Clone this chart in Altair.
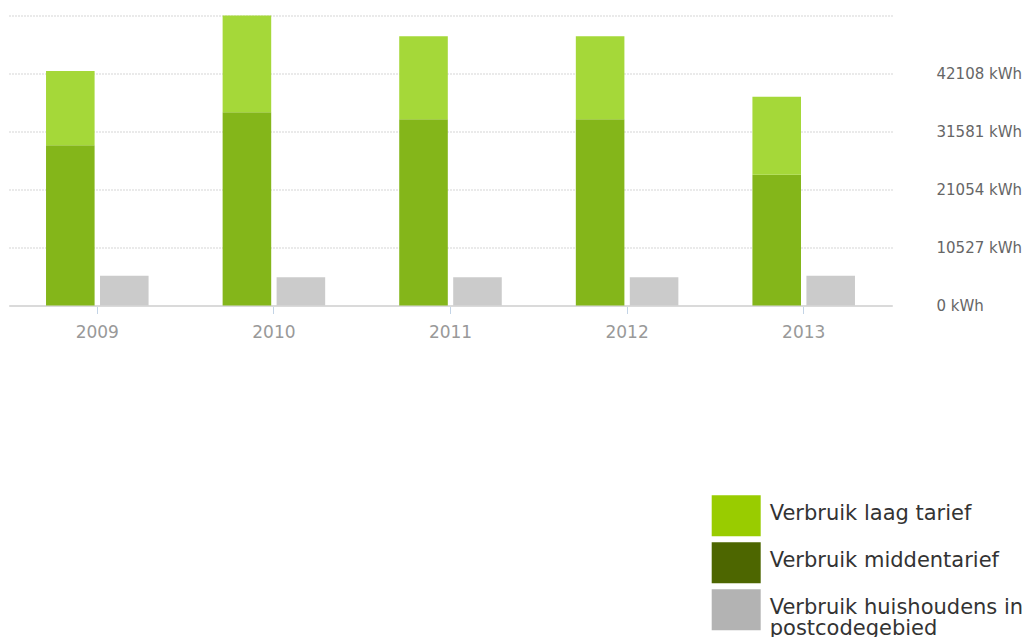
import altair as alt
import pandas as pd

years = ["2009", "2010", "2011", "2012", "2013"]
midden = [29080, 35070, 33800, 33800, 23740]          # Verbruik middentarief (bottom, dark)
laag = [13480, 17565, 15060, 15060, 14160]            # Verbruik laag tarief (top, light)
huishoudens = [5410, 5120, 5120, 5120, 5410]          # Verbruik huishoudens in postcodegebied
series_names = ["Verbruik laag tarief", "Verbruik middentarief",
                "Verbruik huishoudens in postcodegebied"]
bar_colors = ["#a5d839", "#84b61a", "#cbcbcb"]
legend_colors = ["#99cc00", "#4d6600", "#b3b3b3"]
y_ticks = [0, 10527, 21054, 31581, 42108, 52635]

rows = []
for i, y in enumerate(years):
    rows.append({"year": y, "group": "a", "series": series_names[1], "value": midden[i], "ord": 0})
    rows.append({"year": y, "group": "a", "series": series_names[0], "value": laag[i], "ord": 1})
    rows.append({"year": y, "group": "b", "series": series_names[2], "value": huishoudens[i], "ord": 0})
df = pd.DataFrame(rows)
legend_df = pd.DataFrame({"entry": series_names})

font = "DejaVu Sans"

bars = alt.Chart(df).mark_bar().encode(
    x=alt.X("year:N", title=None,
            scale=alt.Scale(paddingInner=0, paddingOuter=0),
            axis=alt.Axis(labelAngle=0, labelFontSize=17, labelColor="#999999", labelFont=font,
                          tickSize=8, tickColor="#c3d4e6", tickWidth=1, labelPadding=11,
                          domainColor="#dadada", domainWidth=2, grid=False)),
    xOffset=alt.XOffset("group:N", scale=alt.Scale(paddingInner=0.1, paddingOuter=0.686)),
    y=alt.Y("value:Q", stack="zero", title=None,
            scale=alt.Scale(domain=[0, 52635], nice=False, zero=True),
            axis=alt.Axis(orient="right", values=y_ticks,
                          labelExpr="datum.value > 50000 ? '' : datum.value + ' kWh'",
                          labelFontSize=15, labelColor="#666666", labelFont=font,
                          labelAlign="left", labelPadding=44, ticks=False, domain=False,
                          grid=True, gridColor="#aaaaaa", gridDash=[1, 2], gridWidth=1)),
    color=alt.Color("series:N", scale=alt.Scale(domain=series_names, range=bar_colors),
                    legend=None),
    order=alt.Order("ord:Q"),
)

legend_layer = alt.Chart(legend_df).mark_square(opacity=0).encode(
    x=alt.value(0), y=alt.value(0),
    fill=alt.Fill("entry:N", scale=alt.Scale(domain=series_names, range=legend_colors),
                  legend=alt.Legend(
                      title=None, orient="none", legendX=702.7, legendY=474.3,
                      padding=0, rowPadding=0, symbolType="M-1,-0.776H1V0.898H-1Z",
                      symbolSize=2401, symbolStrokeWidth=0, symbolOpacity=1,
                      labelFontSize=21, labelFont=font, labelColor="#333333",
                      labelLimit=500, labelOffset=9, labelBaseline="middle",
                      labelExpr=("datum.label == '%s' ? ['Verbruik huishoudens in', 'postcodegebied'] : datum.label"
                                 % series_names[2]))),
)

chart = alt.layer(bars, legend_layer).resolve_scale(color="independent", fill="independent").properties(
    width=883, height=290,
    padding={"left": 9, "top": 15.5, "right": 141, "bottom": 331.5},
    autosize=alt.AutoSizeParams(type="none"),
).configure(style={"guide-label": {"lineHeight": 21}}).configure_view(strokeWidth=0)

chart.save("out.html", embed_options={"renderer": "svg", "actions": False})
